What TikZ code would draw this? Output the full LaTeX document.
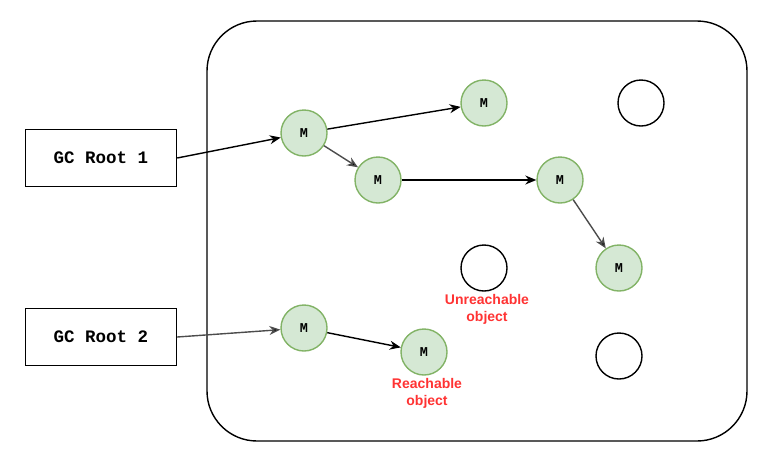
\documentclass[tikz,border=0pt]{standalone}
\usepackage{fontspec}
\setmainfont{Liberation Sans}
\newfontfamily\monof{Liberation Mono}
\usetikzlibrary{arrows.meta}
\definecolor{mfill}{HTML}{D5E8D4}
\definecolor{mline}{HTML}{82B366}
\definecolor{lblred}{HTML}{FF3333}
\begin{document}
\begin{tikzpicture}[x=1pt,y=-1pt,
  mnode/.style={circle,draw=mline,fill=mfill,line width=1.4pt,minimum size=46pt,inner sep=0pt,font=\monof\bfseries\fontsize{13.5}{13.5}\selectfont},
  emptyobj/.style={circle,draw=black,line width=1.4pt,minimum size=46pt,inner sep=0pt},
  rootbox/.style={draw=black,line width=1.4pt,minimum width=151pt,minimum height=57pt,inner sep=0pt,font=\monof\bfseries\fontsize{17.5}{17.5}\selectfont},
  lbl/.style={text=lblred,font=\bfseries\fontsize{14}{17}\selectfont,align=center},
  conn/.style={line width=1.4pt,-{Stealth[length=11pt,width=9pt]}},
  conng/.style={conn,draw=black!70,-{Stealth[length=11pt,width=9pt,fill=black]}}
]
\useasboundingbox (0,0) rectangle (765,456);
\draw[line width=1.4pt,rounded corners=50pt] (207,21) rectangle (747,441);
\node[rootbox] (r1) at (101,158) {GC Root 1};
\node[rootbox] (r2) at (101,337) {GC Root 2};
\node[mnode] (a) at (304,133) {M};
\node[mnode] (b) at (484,103) {M};
\node[mnode] (c) at (378,180) {M};
\node[mnode] (d) at (560,180) {M};
\node[mnode] (e) at (619,268) {M};
\node[mnode] (f) at (304,328) {M};
\node[mnode] (g) at (424,352) {M};
\node[emptyobj] (o1) at (641,103) {};
\node[emptyobj] (o2) at (484,268) {};
\node[emptyobj] (o3) at (619,356) {};
\node[lbl,anchor=north] (l1) at (487,291) {Unreachable\\object};
\node[lbl,anchor=north] (l2) at (427,375) {Reachable\\object};
\draw[conn] (r1.east) -- (a);
\draw[conn] (a) -- (b);
\draw[conng] (a) -- (c);
\draw[conn] (c) -- (d);
\draw[conng] (d) -- (e);
\draw[conng] (r2.east) -- (f);
\draw[conn] (f) -- (g);
\end{tikzpicture}
\end{document}
